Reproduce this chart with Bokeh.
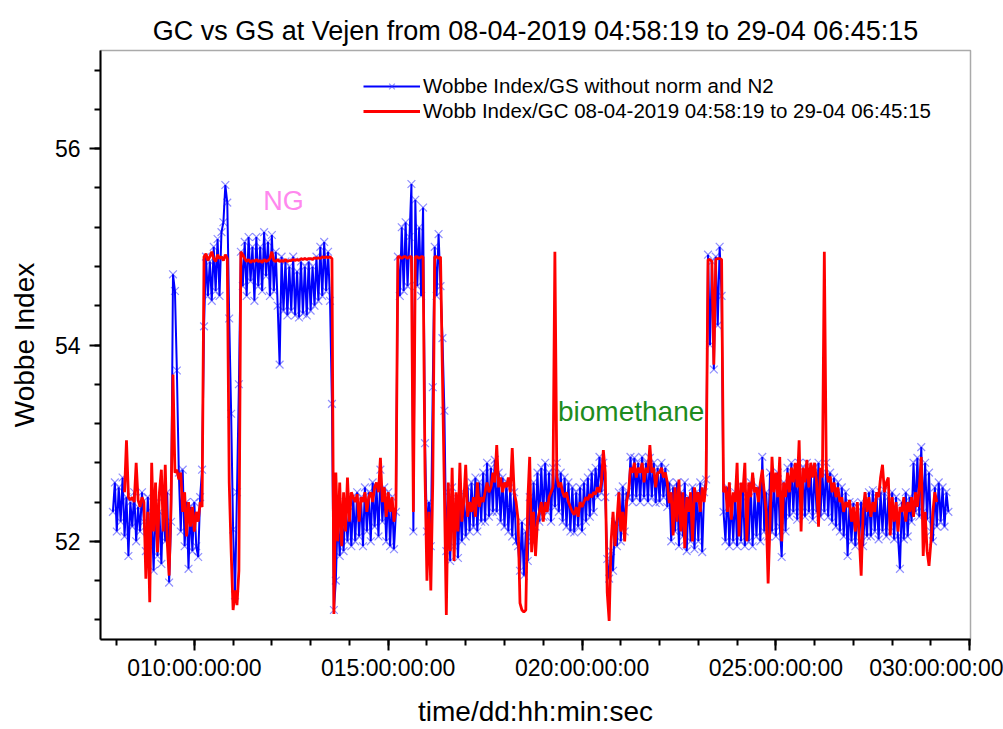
from bokeh.plotting import figure
from bokeh.models import Range1d, FixedTicker, Label, Legend, LegendItem
from bokeh.embed import file_html
from bokeh.resources import INLINE
import numpy as np

TITLE = "GC vs GS at Vejen from 08-04-2019 04:58:19 to 29-04 06:45:15"
X_LABEL = "time/dd:hh:min:sec"
Y_LABEL = "Wobbe Index"
GS_NAME = "Wobbe Index/GS without norm and N2"
GC_NAME = "Wobb Index/GC 08-04-2019 04:58:19 to 29-04 06:45:15"

x_ticks = [10, 15, 20, 25, 30]
x_tick_labels = ["010:00:00:00", "015:00:00:00", "020:00:00:00", "025:00:00:00", "030:00:00:00"]
y_ticks = [52, 54, 56]

# GS series: sampled every 0.05 day starting at day 7.90
gs_start = 7.90
gs_step = 0.05
gs_values = [
    52.3, 52.6,
    52.1, 52.55, 52.2, 52.65, 52.05, 52.45, 51.85, 52.4, 52.15, 52.5, 52.0, 52.35, 52.1, 52.5, 52.2, 51.9, 52.45, 51.95, 52.3, 51.7,
    52.4, 51.85, 52.3, 51.77, 52.45, 52.0, 52.5, 51.58, 52.2, 54.72, 54.55, 53.74, 52.7, 52.1, 52.73, 51.95, 52.4, 51.72, 52.35, 51.9,
    52.4, 51.95, 51.84, 52.45, 52.73, 54.19, 54.9, 54.5, 54.85, 54.45, 55.0, 54.55, 55.08, 54.5, 55.15, 55.25, 55.63, 55.45, 54.27, 53.3,
    52.12, 51.45, 52.5, 53.6, 54.95, 54.6, 55.05, 54.5, 55.1, 54.65, 55.0, 54.45, 55.1, 54.6, 55.0, 54.55, 55.15, 54.7, 55.05, 54.5,
    55.12, 54.55, 54.95, 54.4, 53.8, 54.9, 54.35, 54.85, 54.3, 54.8, 54.35, 54.9, 54.3, 54.75, 54.28, 54.85, 54.32, 54.8, 54.3, 54.85,
    54.35, 54.8, 54.4, 54.9, 54.45, 55.0, 54.5, 55.05, 54.55, 54.95, 54.45, 53.4, 51.3, 51.6, 52.3, 51.85, 52.25, 51.9, 52.4, 52.0,
    52.35, 51.95, 52.45, 52.0, 52.5, 52.05, 52.45, 51.95, 52.55, 52.1, 52.5, 52.0, 52.6, 52.15, 52.55, 52.05, 52.73, 52.2, 52.55, 52.0,
    52.5, 51.95, 52.45, 51.92, 52.3, 54.9, 54.5, 55.2, 54.55, 55.25, 54.6, 55.1, 55.64, 52.1, 55.48, 54.6, 55.2, 54.5, 55.4, 53.0,
    52.1, 52.4, 51.95, 53.57, 55.0, 54.5, 55.13, 54.6, 54.07, 53.33, 51.9, 52.5, 51.8, 52.55, 51.95, 52.45, 51.83, 52.4, 52.0, 52.5,
    52.05, 52.55, 52.1, 52.6, 52.15, 52.65, 52.1, 52.6, 52.2, 52.7, 52.2, 52.8, 52.25, 52.75, 52.3, 52.83, 52.3, 52.7, 52.2, 52.65,
    52.15, 52.6, 52.1, 52.55, 52.05, 52.5, 52.0, 51.95, 51.7, 52.2, 51.65, 52.1, 51.8, 52.45, 52.0, 52.6, 52.15, 52.7, 52.2, 52.75,
    52.25, 52.8, 52.3, 52.7, 52.2, 52.75, 52.35, 52.8, 52.3, 52.7, 52.2, 52.65, 52.15, 52.6, 52.1, 52.55, 52.09, 52.5, 52.15, 52.55,
    52.1, 52.6, 52.2, 52.65, 52.25, 52.7, 52.3, 52.75, 52.45, 52.86, 52.5, 52.8, 52.45, 51.82, 51.62, 51.9, 51.7, 52.2, 51.95, 52.5,
    52.0, 52.56, 52.1, 52.5, 52.45, 52.86, 52.4, 52.85, 52.45, 52.8, 52.4, 52.86, 52.45, 52.8, 52.4, 52.85, 52.45, 52.8, 52.39, 52.75,
    52.4, 52.8, 52.45, 52.75, 52.35, 52.6, 52.0, 52.55, 52.1, 52.6, 51.95, 52.5, 52.05, 52.6, 51.9, 52.45, 52.0, 52.55, 51.92, 52.5,
    52.0, 52.6, 51.89, 52.5, 52.63, 54.92, 54.0, 54.85, 53.75, 54.9, 54.2, 55.0, 54.5, 52.3, 52.0, 52.55, 51.95, 52.45, 52.0, 52.5,
    51.95, 52.5, 52.0, 52.55, 51.95, 52.45, 52.0, 52.6, 51.95, 52.5, 52.05, 52.55, 52.0, 52.86, 52.1, 52.5, 52.05, 52.7, 52.1, 52.65,
    52.05, 52.7, 52.15, 51.84, 52.6, 52.1, 52.75, 52.25, 52.8, 52.3, 52.75, 52.22, 52.8, 52.3, 52.75, 52.25, 52.8, 52.3, 52.7, 52.22,
    52.75, 52.3, 52.8, 52.25, 52.7, 52.3, 52.8, 52.25, 52.7, 52.2, 52.65, 52.15, 52.6, 52.1, 52.55, 52.05, 52.5, 51.85, 52.4, 52.0,
    52.39, 51.95, 52.35, 52.0, 52.4, 51.95, 52.35, 52.05, 52.5, 52.05, 52.52, 52.1, 52.45, 52.02, 52.5, 52.1, 52.52, 52.05, 52.45, 52.1,
    52.5, 52.02, 52.45, 52.05, 51.72, 52.4, 52.02, 52.5, 52.05, 52.45, 52.2, 52.8, 52.3, 52.85, 52.25, 52.96, 52.3, 52.8, 52.22, 52.7,
    52.1, 52.0, 52.55, 52.15, 52.6, 52.2, 52.55, 52.15, 52.5, 52.3,
]

# GC series: sampled every 0.05 day starting at day 8.20
gc_start = 8.20
gc_step = 0.05
gc_values = [
    52.5, 53.03, 52.45, 52.42, 52.45, 52.4, 52.8, 52.42, 52.35, 52.45, 52.4, 51.62, 52.3, 51.38, 52.8, 52.1,
    52.6, 51.89, 52.5, 52.73, 52.1, 52.78, 52.0, 51.65, 52.4, 53.7, 52.7, 52.73, 52.63, 52.7, 52.3, 52.5, 52.05, 52.4, 52.15, 52.35,
    52.1, 52.3, 52.2, 52.4, 52.35, 54.9, 54.93, 54.86, 54.9, 54.95, 54.88, 54.85, 54.92, 54.88, 54.9, 54.86, 54.92, 54.88, 52.6, 51.9,
    51.3, 51.5, 51.35, 51.7, 54.95, 54.92, 54.88, 54.85, 54.87, 54.84, 54.86, 54.85, 54.87, 54.85, 54.86, 54.84, 54.87, 54.85, 54.86, 54.88,
    54.95, 54.86, 54.85, 54.87, 54.85, 54.86, 54.85, 54.87, 54.85, 54.86, 54.86, 54.87, 54.86, 54.87, 54.86, 54.88, 54.87, 54.88, 54.87, 54.88,
    54.88, 54.87, 54.89, 54.88, 54.89, 54.88, 54.9, 54.89, 54.9, 54.89, 54.9, 54.88, 51.26, 52.7, 52.0, 52.6, 51.95, 52.5, 52.1, 52.65,
    52.2, 52.5, 52.45, 52.4, 52.48, 52.2, 52.45, 52.4, 52.5, 52.3, 52.45, 52.5, 52.4, 52.55, 52.6, 52.5, 52.85, 52.4, 52.55, 52.25,
    52.5, 52.3, 52.45, 52.2, 52.35, 54.9, 54.9, 54.88, 54.9, 54.9, 54.88, 54.9, 54.9, 52.3, 54.9, 54.9, 54.88, 54.9, 54.9, 52.7,
    51.6, 52.3, 51.5, 52.6, 54.9, 54.9, 54.88, 54.9, 53.7, 52.5, 51.25, 52.6, 51.9, 52.75, 51.8, 52.5, 52.1, 52.8, 52.2, 52.4,
    52.78, 52.25, 52.4, 52.3, 52.45, 52.25, 52.6, 52.35, 52.45, 52.4, 52.5, 52.6, 52.5, 52.55, 52.7, 52.6, 52.98, 52.55, 52.65, 52.5,
    52.6, 52.55, 52.65, 52.5, 52.95, 52.5, 52.4, 52.22, 51.37, 51.3, 51.28, 51.3, 52.4, 52.86, 51.89, 52.3, 51.85, 52.2, 52.3, 52.4,
    52.2, 52.4, 52.3, 52.45, 52.5, 52.55, 54.95, 52.66, 52.55, 52.6, 52.5, 52.45, 52.5, 52.4, 52.35, 52.3, 52.27, 52.35, 52.25, 52.4,
    52.35, 52.4, 52.45, 52.42, 52.48, 52.45, 52.5, 52.48, 52.55, 52.5, 52.6, 52.93, 52.7, 51.48, 51.19, 52.0, 52.3, 51.95, 52.2, 52.5,
    52.1, 52.3, 52.0, 52.4, 52.5, 52.75, 52.7, 52.8, 52.65, 52.75, 52.7, 52.8, 52.6, 52.75, 52.7, 52.98, 52.7, 52.75, 52.55, 52.7,
    52.7, 52.75, 52.65, 52.7, 52.6, 52.39, 52.5, 52.06, 52.55, 52.2, 52.63, 52.1, 52.5, 51.93, 52.45, 52.3, 52.5, 52.0, 52.55, 52.4,
    52.5, 52.3, 52.55, 52.4, 52.6, 54.87, 54.87, 54.85, 53.8, 54.87, 54.88, 54.88, 54.87, 52.5, 52.56, 52.3, 52.6, 52.22, 52.5, 52.4,
    52.8, 52.05, 52.6, 52.5, 52.8, 52.0, 52.6, 52.45, 52.7, 52.5, 52.55, 52.4, 52.6, 52.73, 52.5, 52.3, 51.57, 52.2, 52.86, 52.5,
    52.7, 52.45, 52.86, 52.0, 52.6, 52.45, 52.7, 52.5, 52.75, 52.6, 52.8, 52.55, 53.03, 52.1, 52.75, 52.6, 52.83, 52.55, 52.8, 52.65,
    52.8, 52.6, 52.15, 52.75, 52.65, 54.95, 52.75, 52.6, 52.66, 52.5, 52.6, 52.45, 52.55, 52.4, 52.45, 52.3, 52.4, 52.35, 52.42, 52.2,
    52.35, 52.1, 52.4, 52.05, 51.65, 52.3, 52.5, 52.3, 52.45, 52.25, 52.4, 52.3, 52.5, 52.45, 52.65, 52.78, 52.5, 52.6, 52.65, 52.06,
    52.45, 52.2, 52.4, 52.1, 52.35, 52.3, 52.45, 52.2, 52.4, 52.3, 52.45, 52.25, 52.5, 52.35, 52.55, 52.86, 51.85, 52.3, 51.9, 51.75,
    52.0, 52.3, 52.5, 52.4,
]

gs_time = gs_start + gs_step * np.arange(len(gs_values))
gc_time = gc_start + gc_step * np.arange(len(gc_values))

FONT = "Liberation Sans"

p = figure(width=1003, height=729, output_backend="svg", toolbar_location=None,
           x_range=Range1d(7.58, 30.02), y_range=Range1d(51.0, 57.0),
           min_border_left=100, min_border_right=33, min_border_top=50, min_border_bottom=87)
p.background_fill_color = "white"
p.border_fill_color = "white"
p.outline_line_color = "#aaaaaa"
p.outline_line_width = 1.5
p.xgrid.visible = False
p.ygrid.visible = False

p.title.text = TITLE
p.title.text_font = FONT
p.title.text_font_size = "27px"
p.title.text_font_style = "normal"
p.title.text_color = "black"
p.title.align = "center"
p.title.standoff = 9

gs_pts = p.scatter(gs_time, gs_values, marker="x", size=11, line_color="#3333ff", line_alpha=0.55, line_width=1.2)
gs_line = p.line(gs_time, gs_values, line_color="#0000ff", line_width=2)
gc_line = p.line(gc_time, gc_values, line_color="#ff0000", line_width=2.8)

xa = p.xaxis[0]
xa.ticker = FixedTicker(ticks=x_ticks, minor_ticks=list(range(8, 31)))
xa.major_label_overrides = {float(t): lab for t, lab in zip(x_ticks, x_tick_labels)}
xa.axis_label = X_LABEL
ya = p.yaxis[0]
ya.ticker = FixedTicker(ticks=y_ticks, minor_ticks=[round(51.2 + 0.4 * i, 1) for i in range(15)])
ya.axis_label = Y_LABEL

for ax in (xa, ya):
    ax.axis_line_width = 2
    ax.axis_line_color = "black"
    ax.major_tick_line_width = 2
    ax.minor_tick_line_width = 2
    ax.major_tick_in = 0
    ax.major_tick_out = 11
    ax.minor_tick_in = 0
    ax.minor_tick_out = 6
    ax.major_label_text_font = FONT
    ax.major_label_text_font_size = "23px"
    ax.major_label_text_color = "black"
    ax.axis_label_text_font = FONT
    ax.axis_label_text_font_size = "28px"
    ax.axis_label_text_font_style = "normal"
    ax.axis_label_text_color = "black"

xa.major_label_standoff = 4
xa.axis_label_standoff = 12
ya.major_label_standoff = 9
ya.axis_label_standoff = 12

legend = Legend(items=[
    LegendItem(label=GS_NAME, renderers=[gs_line, gs_pts]),
    LegendItem(label=GC_NAME, renderers=[gc_line]),
], location=(263, 516))
legend.border_line_color = None
legend.background_fill_alpha = 0
legend.padding = 0
legend.margin = 0
legend.spacing = 1
legend.glyph_width = 57
legend.glyph_height = 20
legend.label_height = 20
legend.label_standoff = 3
legend.label_text_font = FONT
legend.label_text_font_size = "20.5px"
legend.label_text_color = "black"
p.add_layout(legend, "center")

p.add_layout(Label(x=11.78, y=55.47, text="NG", text_font=FONT, text_font_size="27px",
                   text_color="#ff88ee", text_baseline="middle", text_align="left"))
p.add_layout(Label(x=19.38, y=53.32, text="biomethane", text_font=FONT, text_font_size="28px",
                   text_color="#1e8c1e", text_baseline="middle", text_align="left"))

open("out.html", "w").write(file_html(p, INLINE))
